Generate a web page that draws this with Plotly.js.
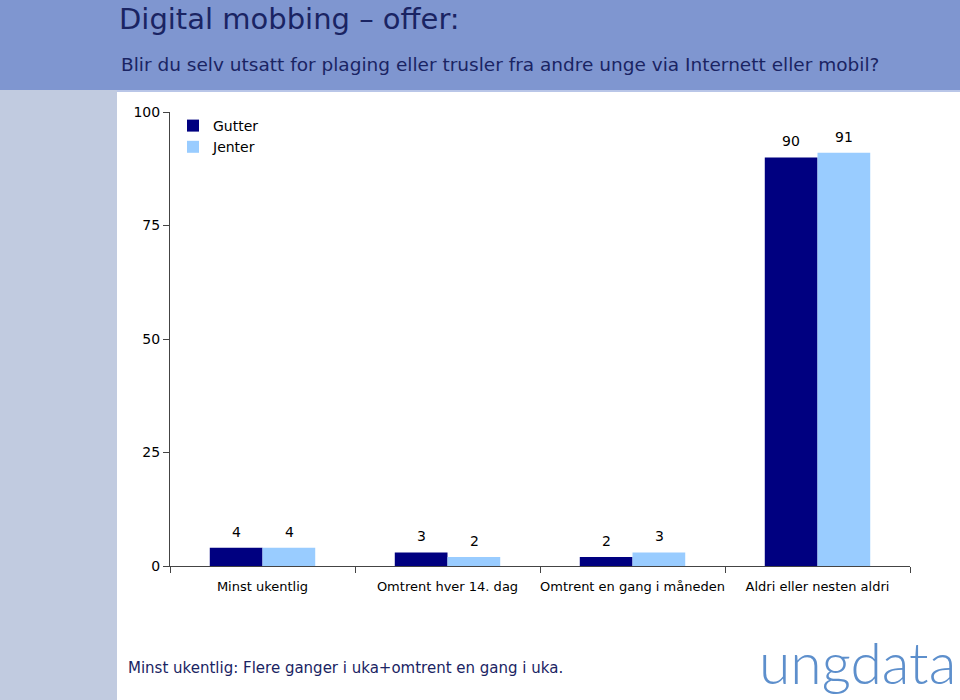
<!DOCTYPE html>
<html>
<head>
<meta charset="utf-8">
<script src="https://cdn.plot.ly/plotly-3.0.1.min.js"></script>
<style>html,body{margin:0;padding:0;background:#fff;}#chart{width:960px;height:700px;}</style>
</head>
<body>
<div id="chart"></div>
<script>
var categories = ["Minst ukentlig", "Omtrent hver 14. dag", "Omtrent en gang i måneden", "Aldri eller nesten aldri"];
var gutter = [4, 3, 2, 90];
var jenter = [4, 2, 3, 91];
var yTicks = [0, 25, 50, 75, 100];

var FONT = "Tahoma, 'DejaVu Sans', Verdana, sans-serif";

function px2x(p){ return (p - 170) / 740; }
function py2y(p){ return (566 - p) / 454; }

var traces = [
  {type: "bar", name: "Gutter", x: categories, y: gutter, marker: {color: "#000080"}, hoverinfo: "none"},
  {type: "bar", name: "Jenter", x: categories, y: jenter, marker: {color: "#99ccff"}, hoverinfo: "none"}
];

var labelAnns = [];
categories.forEach(function(c, i){
  labelAnns.push({x: c, y: gutter[i], xref: "x", yref: "y", text: String(gutter[i]), showarrow: false,
    xanchor: "center", yanchor: "bottom", xshift: -26.5, yshift: 6,
    font: {family: FONT, size: 14, color: "#000"}});
  labelAnns.push({x: c, y: jenter[i], xref: "x", yref: "y", text: String(jenter[i]), showarrow: false,
    xanchor: "center", yanchor: "bottom", xshift: 26.5, yshift: 6,
    font: {family: FONT, size: 14, color: "#000"}});
});

var layout = {
  width: 960, height: 700,
  margin: {l: 170, r: 50, t: 112, b: 134},
  paper_bgcolor: "#ffffff", plot_bgcolor: "rgba(0,0,0,0)",
  font: {family: FONT, size: 14, color: "#000"},
  barmode: "group", bargap: 0.43, bargroupgap: 0,
  title: {text: "Digital mobbing \u2013 offer:", x: 119/960, xanchor: "left", xref: "container",
          y: 1 - 19/700, yanchor: "middle", yref: "container",
          font: {family: FONT, size: 29, color: "#1a2463"}},
  showlegend: true,
  legend: {x: px2x(173), y: py2y(110), xanchor: "left", yanchor: "top",
           bgcolor: "rgba(0,0,0,0)", font: {family: FONT, size: 14, color: "#000"},
           tracegroupgap: 0, itemwidth: 30},
  xaxis: {type: "category", tickson: "boundaries", ticks: "outside", ticklen: 6, tickangle: 0,
          ticklabelstandoff: 8,
          tickcolor: "#444", showline: true, linecolor: "#444", linewidth: 1,
          showgrid: false, tickfont: {family: FONT, size: 13, color: "#000"}, fixedrange: true},
  yaxis: {range: [0, 100], tickvals: yTicks, ticktext: yTicks.map(String), ticks: "outside",
          ticklen: 6, tickcolor: "#444", showline: true, linecolor: "#444", linewidth: 1,
          showgrid: false, zeroline: false, tickfont: {family: FONT, size: 14, color: "#000"},
          fixedrange: true},
  shapes: [
    {type: "rect", xref: "paper", yref: "paper", layer: "below",
     x0: px2x(0), x1: px2x(960), y0: py2y(90), y1: py2y(0),
     fillcolor: "#7f96d0", line: {width: 0}},
    {type: "rect", xref: "paper", yref: "paper", layer: "below",
     x0: px2x(0), x1: px2x(960), y0: py2y(92), y1: py2y(90),
     fillcolor: "#b9c6e8", line: {width: 0}},
    {type: "rect", xref: "paper", yref: "paper", layer: "below",
     x0: px2x(0), x1: px2x(117), y0: py2y(700), y1: py2y(90),
     fillcolor: "#c1cbe0", line: {width: 0}}
  ],
  annotations: labelAnns.concat([
    {text: "Blir du selv utsatt for plaging eller trusler fra andre unge via Internett eller mobil?",
     xref: "paper", yref: "paper", x: px2x(119), y: py2y(64), xanchor: "left", yanchor: "middle",
     showarrow: false, font: {family: FONT, size: 18.5, color: "#1a2463"}},
    {text: "Minst ukentlig: Flere ganger i uka+omtrent en gang i uka.",
     xref: "paper", yref: "paper", x: px2x(126), y: py2y(668), xanchor: "left", yanchor: "middle",
     showarrow: false, font: {family: FONT, size: 15, color: "#1a2463"}},
    {text: "ungdata",
     xref: "paper", yref: "paper", x: px2x(958), y: py2y(662), xanchor: "right", yanchor: "middle",
     showarrow: false, font: {family: "Lato, 'Open Sans', sans-serif", size: 57, weight: 300, color: "#5d8fcc"}}
  ])
};

Plotly.newPlot("chart", traces, layout, {displayModeBar: false, staticPlot: true});
</script>
</body>
</html>
